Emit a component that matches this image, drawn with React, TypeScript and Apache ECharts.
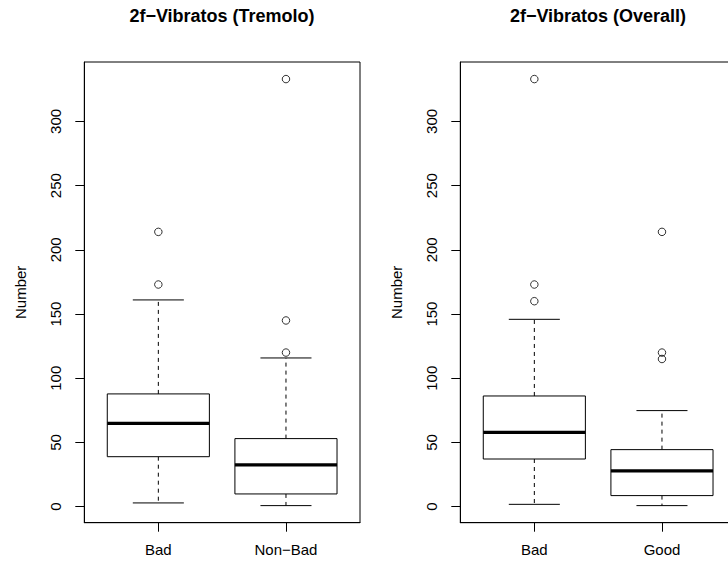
import React, { useEffect, useRef } from "react";
import * as echarts from "echarts";

// ---- data ----
const yTicks = [0, 50, 100, 150, 200, 250, 300];

const tremoloTitle = "2f−Vibratos (Tremolo)";
const tremoloCategories = ["Bad", "Non−Bad"];
// [lower whisker, Q1, median, Q3, upper whisker]
const tremoloBoxes = [
  [2.9, 38.9, 64.9, 87.8, 161],
  [0.8, 9.9, 32.5, 53, 115.8],
];
const tremoloOutliers = [
  [173, 214],
  [120, 145, 333],
];

const overallTitle = "2f−Vibratos (Overall)";
const overallCategories = ["Bad", "Good"];
const overallBoxes = [
  [1.8, 37.1, 57.9, 86.2, 145.9],
  [0.8, 8.6, 27.8, 44.4, 74.8],
];
const overallOutliers = [
  [160, 173, 333],
  [115, 120, 214],
];

const yName = "Number";

const FONT = "'Liberation Sans', Arial, Helvetica, sans-serif";
const Y_MIN = -12.5;
const Y_MAX = 346.3;

function renderBox(params: any, api: any) {
  const x = api.value(0);
  const lo = api.value(1);
  const q1 = api.value(2);
  const med = api.value(3);
  const q3 = api.value(4);
  const hi = api.value(5);
  const boxL = api.coord([x - 0.4, q3]);
  const boxR = api.coord([x + 0.4, q1]);
  const c = api.coord([x, med]);
  const capL = api.coord([x - 0.2, hi]);
  const capR = api.coord([x + 0.2, lo]);
  const yHi = api.coord([x, hi])[1];
  const yLo = api.coord([x, lo])[1];
  const yQ3 = boxL[1];
  const yQ1 = boxR[1];
  const lineStyle = { stroke: "#000", lineWidth: 1, fill: null };
  const dashStyle = { stroke: "#000", lineWidth: 1, lineDash: [4, 4], fill: null };
  return {
    type: "group",
    children: [
      { type: "line", shape: { x1: c[0], y1: yQ3, x2: c[0], y2: yHi }, style: dashStyle },
      { type: "line", shape: { x1: c[0], y1: yQ1, x2: c[0], y2: yLo }, style: dashStyle },
      { type: "line", shape: { x1: capL[0], y1: yHi, x2: capR[0], y2: yHi }, style: lineStyle },
      { type: "line", shape: { x1: capL[0], y1: yLo, x2: capR[0], y2: yLo }, style: lineStyle },
      {
        type: "rect",
        shape: { x: boxL[0], y: yQ3, width: boxR[0] - boxL[0], height: yQ1 - yQ3 },
        style: { stroke: "#000", lineWidth: 1, fill: "#fff" },
      },
      { type: "line", shape: { x1: boxL[0], y1: c[1], x2: boxR[0], y2: c[1] }, style: { stroke: "#000", lineWidth: 3.2 } },
    ],
  };
}

function boxData(boxes: number[][]) {
  return boxes.map((b, i) => [i + 1, ...b]);
}
function outlierData(outs: number[][]) {
  const res: number[][] = [];
  outs.forEach((arr, i) => arr.forEach((v) => res.push([i + 1, v])));
  return res;
}

function makeXAxis(gridIndex: number, cats: string[]) {
  return {
    type: "value",
    gridIndex,
    min: 0.42,
    max: 2.58,
    splitLine: { show: false },
    axisLine: { show: true, onZero: false, lineStyle: { color: "#000", width: 1 } },
    axisTick: { show: true, length: 9, customValues: [1, 2], lineStyle: { color: "#000", width: 1 } },
    axisLabel: {
      customValues: [1, 2],
      formatter: (v: number) => cats[Math.round(v) - 1] ?? "",
      margin: 19,
      color: "#000",
      fontSize: 15,
      fontFamily: FONT,
    },
  };
}

function makeYAxis(gridIndex: number) {
  return {
    type: "value",
    gridIndex,
    min: Y_MIN,
    max: Y_MAX,
    splitLine: { show: false },
    axisLine: { show: true, onZero: false, lineStyle: { color: "#000", width: 1 } },
    axisTick: { show: true, length: 9, customValues: yTicks, lineStyle: { color: "#000", width: 1 } },
    axisLabel: {
      customValues: yTicks,
      rotate: 90,
      margin: 21,
      color: "#000",
      fontSize: 15,
      fontFamily: FONT,
    },
    name: yName,
    nameLocation: "middle",
    nameRotate: 90,
    nameGap: 56,
    nameTextStyle: { color: "#000", fontSize: 15, fontFamily: FONT },
  };
}

export default function App() {
  const ref = useRef<HTMLDivElement>(null);
  useEffect(() => {
    if (!ref.current) return;
    const chart = echarts.init(ref.current, undefined, { renderer: "svg" });
    const gridBase = {
      top: 62,
      height: 460.7,
      width: 275.7,
      show: true,
      borderColor: "#000",
      borderWidth: 1,
      backgroundColor: "transparent",
      containLabel: false,
      outerBoundsMode: "none",
    };
    const outlierStyle = { color: "rgba(0,0,0,0)", borderColor: "#000", borderWidth: 1 };
    chart.setOption({
      animation: false,
      backgroundColor: "#fff",
      grid: [
        { ...gridBase, left: 84.3 },
        { ...gridBase, left: 460.3 },
      ],
      xAxis: [makeXAxis(0, tremoloCategories), makeXAxis(1, overallCategories)],
      yAxis: [makeYAxis(0), makeYAxis(1)],
      graphic: [
        {
          type: "text",
          x: 222,
          y: 16,
          style: { text: tremoloTitle, font: `bold 18px ${FONT}`, fill: "#000", textAlign: "center", textVerticalAlign: "middle" },
        },
        {
          type: "text",
          x: 598,
          y: 16,
          style: { text: overallTitle, font: `bold 18px ${FONT}`, fill: "#000", textAlign: "center", textVerticalAlign: "middle" },
        },
      ],
      series: [
        {
          type: "custom",
          xAxisIndex: 0,
          yAxisIndex: 0,
          renderItem: renderBox,
          encode: { x: 0, y: [1, 2, 3, 4, 5] },
          data: boxData(tremoloBoxes),
        },
        {
          type: "scatter",
          xAxisIndex: 0,
          yAxisIndex: 0,
          symbol: "circle",
          symbolSize: 7.5,
          itemStyle: outlierStyle,
          data: outlierData(tremoloOutliers),
        },
        {
          type: "custom",
          xAxisIndex: 1,
          yAxisIndex: 1,
          renderItem: renderBox,
          encode: { x: 0, y: [1, 2, 3, 4, 5] },
          data: boxData(overallBoxes),
        },
        {
          type: "scatter",
          xAxisIndex: 1,
          yAxisIndex: 1,
          symbol: "circle",
          symbolSize: 7.5,
          itemStyle: outlierStyle,
          data: outlierData(overallOutliers),
        },
      ],
    });
    return () => chart.dispose();
  }, []);
  return <div ref={ref} style={{ position: "absolute", left: 0, top: 0, width: 728, height: 561 }} />;
}
